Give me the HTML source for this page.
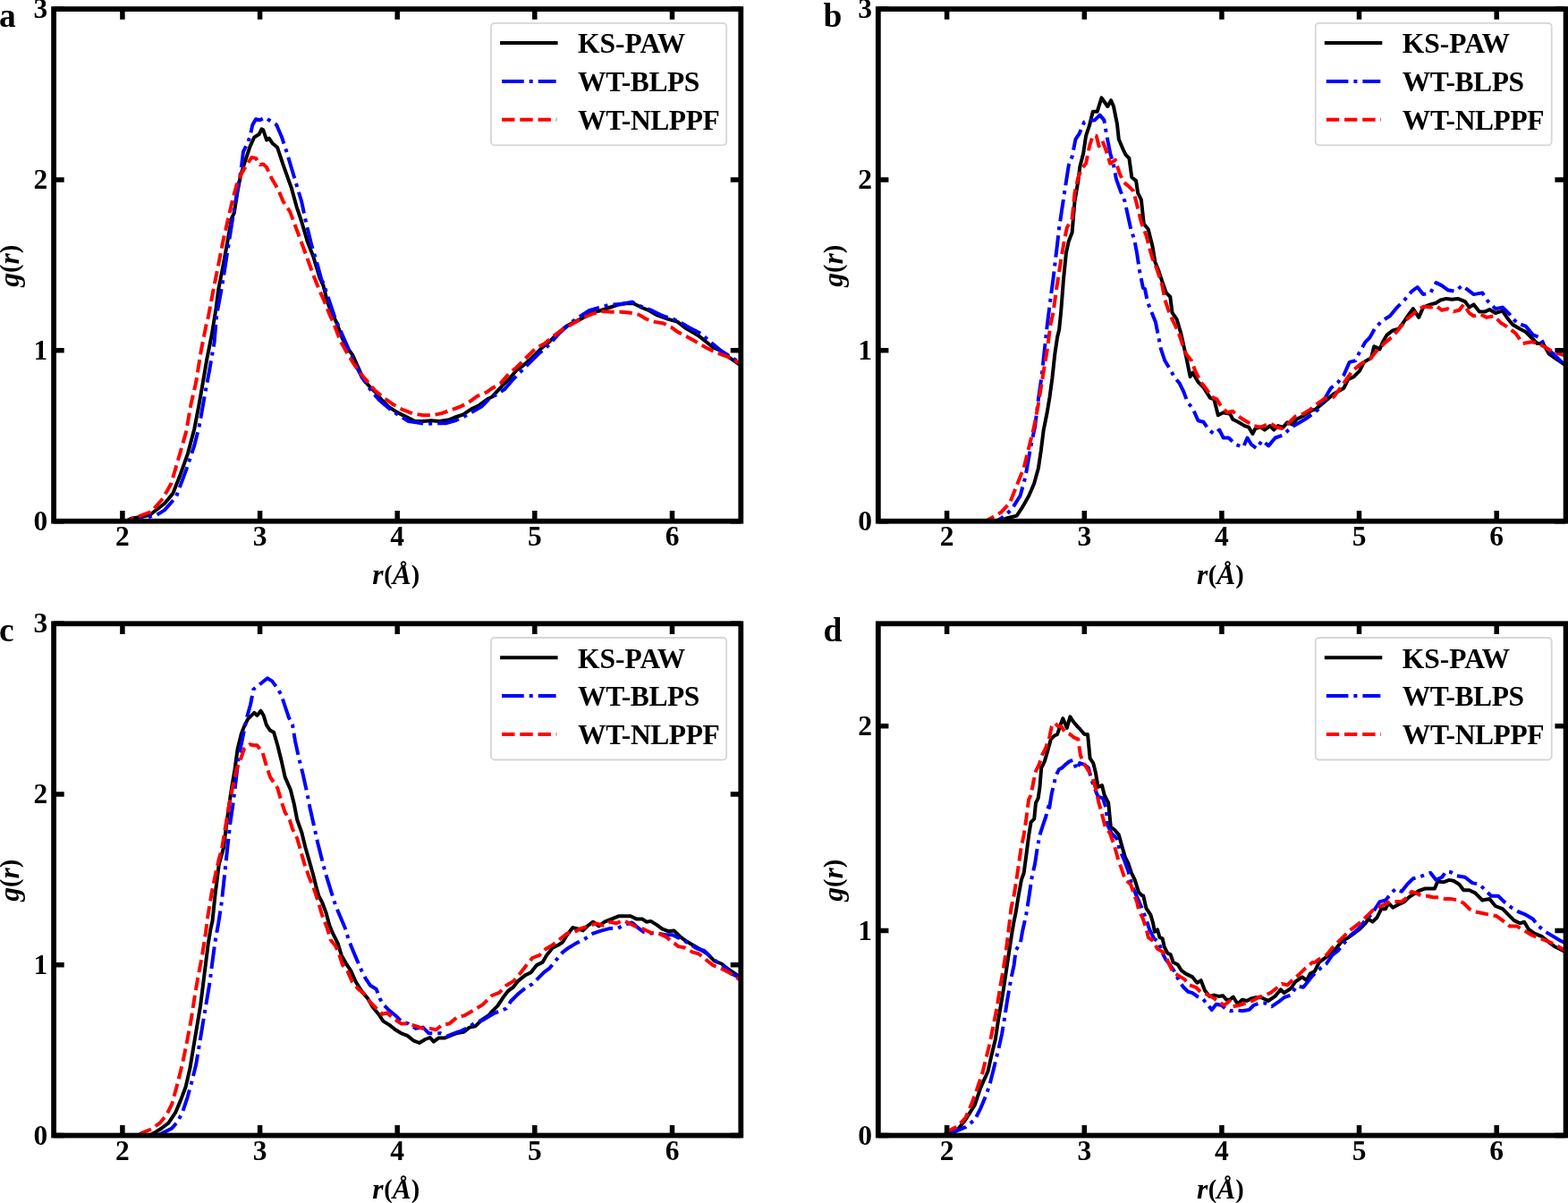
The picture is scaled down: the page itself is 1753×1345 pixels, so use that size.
<!DOCTYPE html>
<html><head><meta charset="utf-8"><title>g(r)</title>
<style>html,body{margin:0;padding:0;background:#fff;overflow:hidden}svg{display:block}text{font-family:"Liberation Serif","Times New Roman",serif;font-weight:bold}</style></head><body>
<svg width="1753" height="1345" viewBox="0 0 1753 1345">
<rect width="1753" height="1345" fill="#fff"/>
<g id="pa">
<clipPath id="clipa"><rect x="60.1" y="10.1" width="768.2" height="572.6"/></clipPath>
<path d="M55.1,582.7 L140.7,582.7 L146.7,579.7 L167.2,576.0 L183.9,563.0 L193.2,551.9 L200.6,533.3 L209.9,507.3 L217.3,479.4 L222.0,455.2 L226.6,429.2 L231.3,401.3 L236.9,373.5 L241.5,345.0 L244.2,323.7 L249.7,295.8 L254.4,269.8 L259.0,243.8 L261.8,238.2 L265.5,214.1 L269.2,195.5 L273.9,180.6 L279.5,163.9 L284.1,153.7 L289.7,150.0 L292.5,144.4 L294.3,145.3 L298.1,156.5 L300.8,154.6 L304.6,160.2 L310.1,164.8 L316.6,184.3 L325.9,210.4 L331.5,230.8 L337.1,247.5 L343.6,269.8 L350.1,286.5 L357.5,310.7 L361.5,319.3 L365.9,337.2 L370.4,349.1 L376.4,361.0 L382.3,377.3 L388.3,389.2 L394.2,396.7 L400.1,410.0 L406.1,423.4 L412.0,430.9 L419.5,438.3 L426.9,447.2 L434.3,454.6 L443.3,460.6 L452.2,465.1 L464.1,471.0 L473.0,471.0 L481.9,470.3 L490.9,471.0 L501.3,469.5 L508.7,466.5 L517.6,463.6 L526.5,457.6 L535.5,453.2 L545.9,445.7 L550.0,443.8 L559.6,433.4 L569.2,423.8 L577.2,414.2 L585.1,408.6 L594.7,399.9 L604.3,390.3 L613.9,382.3 L623.5,372.7 L633.1,364.7 L642.6,359.9 L652.2,355.1 L661.8,349.5 L671.4,347.2 L681.0,344.0 L690.6,340.8 L700.1,339.2 L708.1,339.2 L717.7,344.0 L725.7,347.2 L735.3,352.7 L746.5,356.7 L757.6,359.9 L765.6,366.3 L773.6,371.1 L781.6,375.9 L789.6,382.3 L797.6,388.7 L805.6,391.9 L813.5,398.3 L824.7,406.2 L830.0,409.5" fill="none" stroke="#000" stroke-width="4.0" stroke-linejoin="round" stroke-linecap="square" clip-path="url(#clipa)"/>
<path d="M55.1,582.7 L153.7,582.7 L159.7,579.7 L174.6,576.0 L183.9,570.4 L196.9,555.6 L208.0,525.8 L217.3,498.0 L222.9,475.7 L228.5,444.1 L234.1,414.3 L239.6,382.7 L242.3,351.6 L247.9,321.9 L253.5,286.5 L259.0,251.2 L264.6,217.8 L269.2,191.8 L272.0,169.5 L275.8,162.0 L279.5,152.7 L282.3,139.7 L286.0,133.2 L290.6,134.2 L296.2,131.4 L303.6,136.0 L309.2,139.7 L314.8,152.7 L320.4,169.5 L325.9,188.0 L331.5,206.6 L337.1,225.2 L342.7,251.2 L348.2,273.5 L353.8,292.1 L359.4,312.6 L361.5,316.4 L368.9,338.7 L374.9,356.5 L385.3,380.3 L395.7,404.1 L404.6,421.9 L415.0,436.8 L423.9,447.2 L434.3,456.1 L444.8,463.6 L456.7,471.0 L467.1,472.5 L476.0,474.0 L486.4,473.2 L498.3,473.2 L508.7,470.3 L517.6,466.5 L528.0,460.6 L538.4,454.6 L548.8,444.2 L554.8,441.4 L564.4,435.0 L574.0,423.8 L583.5,414.2 L591.5,406.2 L602.7,395.1 L613.9,385.5 L625.1,372.7 L639.4,359.9 L649.0,353.5 L658.6,347.2 L669.8,344.0 L681.0,340.8 L693.7,340.0 L706.5,337.6 L716.1,342.4 L728.9,347.2 L741.7,353.5 L752.8,356.7 L762.4,361.5 L773.6,367.9 L783.2,372.7 L796.0,383.9 L805.6,391.9 L818.3,399.9 L826.3,404.7 L830.0,407.0" fill="none" stroke="#0000ff" stroke-width="4.0" stroke-linejoin="round" stroke-linecap="butt" stroke-dasharray="24.6 6.0 4.0 6.0" clip-path="url(#clipa)"/>
<path d="M55.1,582.7 L142.6,582.7 L148.6,579.7 L169.0,572.3 L182.0,557.4 L191.3,540.7 L200.6,509.1 L208.0,483.1 L213.6,451.5 L219.2,427.3 L224.8,392.0 L230.4,364.2 L233.0,353.5 L238.6,323.7 L244.2,295.8 L249.7,268.0 L255.3,243.8 L260.0,223.4 L264.6,206.6 L270.2,193.6 L275.8,184.3 L281.3,176.0 L286.0,176.9 L290.6,184.3 L294.3,183.4 L298.1,187.1 L303.6,199.2 L311.1,212.2 L316.6,225.2 L324.1,236.4 L329.6,251.2 L335.2,266.1 L342.7,286.5 L350.1,307.0 L357.5,325.6 L361.5,334.2 L367.4,349.1 L373.4,362.5 L380.8,381.8 L388.3,395.2 L395.7,407.1 L403.1,417.5 L410.6,426.4 L419.5,436.8 L428.4,444.2 L438.8,451.7 L449.2,457.6 L461.1,462.1 L473.0,464.3 L483.4,464.3 L493.8,462.1 L504.2,458.4 L514.6,454.6 L523.6,450.2 L534.0,442.7 L544.4,438.3 L550.0,434.2 L559.6,428.6 L569.2,417.4 L577.2,411.0 L586.7,401.5 L597.9,390.3 L609.1,383.9 L618.7,375.9 L629.9,367.9 L641.0,361.5 L652.2,355.1 L661.8,351.1 L671.4,348.0 L682.6,348.7 L693.7,348.7 L703.3,349.5 L714.5,351.9 L722.5,356.7 L732.1,359.9 L741.7,361.5 L751.2,366.3 L757.6,371.1 L767.2,375.9 L778.4,382.3 L789.6,388.7 L799.2,393.5 L812.0,398.3 L824.7,404.7 L830.0,407.5" fill="none" stroke="#ff0000" stroke-width="4.0" stroke-linejoin="round" stroke-linecap="butt" stroke-dasharray="14.4 5.8" clip-path="url(#clipa)"/>
<path d="M136.9,582.7V571.1M136.9,10.1V21.7M290.6,582.7V571.1M290.6,10.1V21.7M444.2,582.7V571.1M444.2,10.1V21.7M597.8,582.7V571.1M597.8,10.1V21.7M751.5,582.7V571.1M751.5,10.1V21.7M60.1,582.7H71.7M828.3,582.7H816.7M60.1,391.8H71.7M828.3,391.8H816.7M60.1,201.0H71.7M828.3,201.0H816.7M60.1,10.1H71.7M828.3,10.1H816.7" stroke="#000" stroke-width="5.5" fill="none"/>
<rect x="60.1" y="10.1" width="768.2" height="572.6" fill="none" stroke="#000" stroke-width="5.8" stroke-linejoin="miter"/>
<text x="136.9" y="609.7" font-size="31.5" text-anchor="middle">2</text>
<text x="290.6" y="609.7" font-size="31.5" text-anchor="middle">3</text>
<text x="444.2" y="609.7" font-size="31.5" text-anchor="middle">4</text>
<text x="597.8" y="609.7" font-size="31.5" text-anchor="middle">5</text>
<text x="751.5" y="609.7" font-size="31.5" text-anchor="middle">6</text>
<text x="53.3" y="592.7" font-size="31.5" text-anchor="end">0</text>
<text x="53.3" y="401.8" font-size="31.5" text-anchor="end">1</text>
<text x="53.3" y="211.0" font-size="31.5" text-anchor="end">2</text>
<text x="53.3" y="20.1" font-size="31.5" text-anchor="end">3</text>
<text x="442.7" y="652.9" font-size="31.5" text-anchor="middle"><tspan font-style="italic">r</tspan><tspan font-size="28.4" dx="0.6" dy="-0.8">(</tspan><tspan font-style="italic" dy="0.8">Å</tspan><tspan font-size="28.4" dy="-0.8">)</tspan></text>
<text transform="translate(20.5,297.3) rotate(-90)" font-size="31.5" text-anchor="middle"><tspan font-style="italic">g</tspan><tspan font-size="28.4" dy="-0.8">(</tspan><tspan font-style="italic" dy="0.8">r</tspan><tspan font-size="28.4" dy="-0.8">)</tspan></text>
<text x="-0.9" y="29.7" font-size="37.5">a</text>
<rect x="549.0" y="25.8" width="263.2" height="136.5" rx="4" ry="4" fill="#fff" fill-opacity="0.8" stroke="#d6d6d6" stroke-width="1.8"/>
<path d="M561.1,48.1H621.6" stroke="#000" stroke-width="4.0" stroke-linecap="square" fill="none"/>
<text x="646.1" y="59.3" font-size="31.5">KS-PAW</text>
<path d="M561.1,90.9H621.6" stroke="#0000ff" stroke-width="4.0" stroke-linecap="butt" stroke-dasharray="24.6 6.0 4.0 6.0" fill="none"/>
<text x="646.1" y="102.1" font-size="31.5" letter-spacing="-0.45">WT-BLPS</text>
<path d="M561.1,133.7H622.3" stroke="#ff0000" stroke-width="4.0" stroke-linecap="butt" stroke-dasharray="14.4 5.8" fill="none"/>
<text x="646.1" y="144.9" font-size="31.5" letter-spacing="-0.42">WT-NLPPF</text>
</g>
<g id="pb">
<clipPath id="clipb"><rect x="981.8" y="10.1" width="768.2" height="572.6"/></clipPath>
<path d="M976.8,582.7 L1119.1,582.7 L1125.1,579.5 L1136.7,576.6 L1142.5,567.9 L1150.3,554.3 L1156.1,540.8 L1160.9,523.4 L1163.8,504.0 L1166.7,480.8 L1170.6,461.5 L1173.5,444.1 L1176.4,422.8 L1179.3,395.8 L1182.2,376.4 L1184.1,368.7 L1186.1,349.3 L1189.0,312.2 L1191.9,283.2 L1194.8,269.7 L1198.6,260.0 L1201.5,225.3 L1205.4,202.1 L1207.3,186.6 L1211.2,171.2 L1214.1,151.8 L1218.0,140.2 L1221.8,124.8 L1226.7,124.8 L1231.5,109.3 L1238.3,119.0 L1242.1,112.2 L1245.0,119.0 L1248.9,138.3 L1250.8,155.7 L1255.7,167.3 L1258.6,173.1 L1262.4,177.0 L1265.3,198.2 L1270.1,202.1 L1272.1,215.6 L1275.9,223.3 L1278.8,250.4 L1283.7,256.2 L1288.5,275.5 L1291.4,292.9 L1295.3,302.6 L1299.1,314.2 L1303.8,327.4 L1308.3,331.9 L1310.5,349.7 L1315.7,357.2 L1320.1,372.0 L1323.1,385.4 L1326.1,398.8 L1330.6,421.1 L1333.5,416.7 L1339.5,427.1 L1345.4,433.0 L1352.9,444.9 L1357.3,446.4 L1361.8,464.2 L1367.7,461.3 L1375.2,462.7 L1378.1,468.7 L1384.1,471.7 L1391.5,476.1 L1396.0,477.6 L1400.4,485.1 L1403.4,479.1 L1409.4,477.6 L1413.8,480.6 L1419.8,476.1 L1424.2,480.6 L1428.7,476.1 L1434.6,477.6 L1439.1,472.4 L1445.1,474.6 L1449.5,468.7 L1458.4,464.2 L1467.4,458.3 L1470.0,458.2 L1479.7,450.1 L1491.0,440.5 L1502.3,434.0 L1507.1,424.3 L1513.6,421.1 L1520.0,414.6 L1524.9,404.9 L1533.0,400.1 L1536.2,387.2 L1542.6,390.4 L1545.9,382.3 L1550.7,374.3 L1557.2,369.4 L1563.6,367.8 L1568.5,361.3 L1574.9,351.7 L1579.8,345.2 L1586.2,354.9 L1591.1,343.6 L1599.2,340.4 L1605.6,338.7 L1610.5,335.5 L1616.9,333.9 L1623.4,334.7 L1629.8,333.9 L1637.9,337.1 L1642.7,343.6 L1647.6,340.4 L1654.0,348.4 L1660.5,348.4 L1665.3,346.0 L1671.8,350.0 L1679.9,347.6 L1684.7,354.9 L1691.2,363.0 L1699.3,367.8 L1705.7,371.0 L1712.2,377.5 L1718.6,384.0 L1725.1,384.0 L1731.5,395.3 L1738.0,400.1 L1747.7,406.6 L1753.0,410.0" fill="none" stroke="#000" stroke-width="4.0" stroke-linejoin="round" stroke-linecap="square" clip-path="url(#clipb)"/>
<path d="M976.8,582.7 L1113.3,582.7 L1119.3,579.5 L1130.9,569.8 L1140.6,554.3 L1146.4,533.1 L1152.2,500.2 L1157.1,477.0 L1160.9,446.0 L1164.8,419.0 L1167.7,391.9 L1170.6,364.8 L1174.5,333.9 L1177.4,312.2 L1181.3,279.4 L1184.2,254.3 L1187.1,234.9 L1190.9,209.8 L1194.8,184.7 L1198.6,175.0 L1202.5,155.7 L1206.4,149.9 L1212.2,136.4 L1218.0,134.4 L1223.8,134.4 L1229.6,128.6 L1234.4,134.4 L1237.3,151.8 L1241.2,171.2 L1245.0,184.7 L1247.9,200.1 L1252.8,213.7 L1257.6,225.3 L1260.5,238.8 L1264.3,256.2 L1268.2,267.8 L1271.1,283.2 L1274.0,302.6 L1277.9,321.9 L1280.0,323.0 L1283.0,337.8 L1285.9,345.3 L1291.9,360.1 L1294.9,375.0 L1297.8,389.9 L1302.3,403.3 L1306.8,410.7 L1312.7,421.1 L1318.7,428.6 L1323.1,437.5 L1327.6,449.4 L1333.5,456.8 L1339.5,470.2 L1345.4,471.7 L1351.4,480.6 L1357.3,485.1 L1363.3,480.6 L1367.7,489.5 L1373.7,489.5 L1381.1,497.0 L1390.0,499.9 L1394.5,489.5 L1399.0,497.0 L1404.9,501.4 L1410.9,492.5 L1418.3,498.4 L1425.7,489.5 L1434.6,486.5 L1440.6,480.6 L1446.5,476.1 L1454.0,471.7 L1461.4,467.2 L1473.2,458.2 L1481.3,445.3 L1487.8,434.0 L1495.8,427.5 L1502.3,419.5 L1508.7,404.9 L1515.2,403.3 L1520.0,393.6 L1526.5,382.3 L1531.3,377.5 L1537.8,366.2 L1545.9,358.1 L1554.0,353.3 L1562.0,343.6 L1570.1,335.5 L1578.2,325.8 L1584.6,321.0 L1591.1,329.1 L1599.2,327.4 L1605.6,316.1 L1612.1,319.4 L1618.5,324.2 L1626.6,325.8 L1634.7,319.4 L1641.1,324.2 L1647.6,329.1 L1657.3,327.4 L1663.7,337.1 L1671.8,345.2 L1679.9,343.6 L1688.0,351.7 L1696.0,361.3 L1705.7,364.6 L1713.8,374.3 L1721.9,377.5 L1728.3,388.8 L1738.0,396.9 L1747.7,406.6 L1753.0,410.0" fill="none" stroke="#0000ff" stroke-width="4.0" stroke-linejoin="round" stroke-linecap="butt" stroke-dasharray="24.6 6.0 4.0 6.0" clip-path="url(#clipb)"/>
<path d="M976.8,582.7 L1101.7,582.7 L1107.7,579.5 L1119.3,572.7 L1129.0,562.1 L1136.7,542.7 L1144.5,523.4 L1150.3,500.2 L1156.1,477.0 L1160.9,451.8 L1165.8,420.9 L1170.6,391.9 L1174.5,362.9 L1177.4,349.9 L1181.3,321.9 L1186.1,291.0 L1190.0,267.8 L1192.9,254.3 L1198.6,244.6 L1201.5,215.6 L1205.4,198.2 L1209.3,188.6 L1214.1,182.8 L1218.0,163.4 L1221.8,151.8 L1225.7,151.8 L1228.6,163.4 L1232.5,157.6 L1236.3,167.3 L1241.2,182.8 L1247.0,178.9 L1251.8,194.3 L1256.6,204.0 L1261.4,207.9 L1267.2,213.7 L1271.1,229.1 L1275.9,248.5 L1281.7,263.9 L1285.6,279.4 L1288.5,289.0 L1293.3,300.6 L1299.1,318.0 L1302.3,334.9 L1306.8,348.3 L1311.2,358.7 L1317.2,370.6 L1321.6,383.9 L1326.1,395.8 L1332.0,403.3 L1336.5,415.2 L1342.5,427.1 L1348.4,434.5 L1354.3,443.4 L1360.3,446.4 L1364.8,453.8 L1372.2,461.3 L1378.1,459.8 L1387.1,467.2 L1394.5,471.7 L1401.9,476.1 L1409.4,477.6 L1419.8,473.2 L1427.2,477.6 L1433.2,479.1 L1440.6,473.2 L1448.0,465.7 L1456.9,462.7 L1464.4,458.3 L1470.0,453.4 L1481.3,445.3 L1491.0,443.7 L1500.7,430.8 L1512.0,414.6 L1521.7,406.6 L1531.3,401.7 L1539.4,392.0 L1547.5,384.0 L1557.2,375.9 L1565.3,366.2 L1573.3,356.5 L1583.0,348.4 L1591.1,342.8 L1599.2,343.6 L1605.6,342.0 L1612.1,346.8 L1618.5,345.2 L1625.0,348.4 L1631.4,346.8 L1636.3,340.4 L1642.7,350.0 L1647.6,353.3 L1655.7,351.7 L1662.1,354.9 L1670.2,353.3 L1678.3,361.3 L1686.3,366.2 L1694.4,372.7 L1702.5,384.0 L1712.2,382.3 L1720.2,384.0 L1728.3,388.8 L1736.4,393.6 L1747.7,396.9 L1753.0,398.0" fill="none" stroke="#ff0000" stroke-width="4.0" stroke-linejoin="round" stroke-linecap="butt" stroke-dasharray="14.4 5.8" clip-path="url(#clipb)"/>
<path d="M1058.6,582.7V571.1M1058.6,10.1V21.7M1212.3,582.7V571.1M1212.3,10.1V21.7M1365.9,582.7V571.1M1365.9,10.1V21.7M1519.5,582.7V571.1M1519.5,10.1V21.7M1673.2,582.7V571.1M1673.2,10.1V21.7M981.8,582.7H993.4M1750.0,582.7H1738.4M981.8,391.8H993.4M1750.0,391.8H1738.4M981.8,201.0H993.4M1750.0,201.0H1738.4M981.8,10.1H993.4M1750.0,10.1H1738.4" stroke="#000" stroke-width="5.5" fill="none"/>
<rect x="981.8" y="10.1" width="768.8" height="572.6" fill="none" stroke="#000" stroke-width="5.8" stroke-linejoin="miter"/>
<text x="1058.6" y="609.7" font-size="31.5" text-anchor="middle">2</text>
<text x="1212.3" y="609.7" font-size="31.5" text-anchor="middle">3</text>
<text x="1365.9" y="609.7" font-size="31.5" text-anchor="middle">4</text>
<text x="1519.5" y="609.7" font-size="31.5" text-anchor="middle">5</text>
<text x="1673.2" y="609.7" font-size="31.5" text-anchor="middle">6</text>
<text x="975.0" y="592.7" font-size="31.5" text-anchor="end">0</text>
<text x="975.0" y="401.8" font-size="31.5" text-anchor="end">1</text>
<text x="975.0" y="211.0" font-size="31.5" text-anchor="end">2</text>
<text x="975.0" y="20.1" font-size="31.5" text-anchor="end">3</text>
<text x="1364.4" y="652.9" font-size="31.5" text-anchor="middle"><tspan font-style="italic">r</tspan><tspan font-size="28.4" dx="0.6" dy="-0.8">(</tspan><tspan font-style="italic" dy="0.8">Å</tspan><tspan font-size="28.4" dy="-0.8">)</tspan></text>
<text transform="translate(942.2,297.3) rotate(-90)" font-size="31.5" text-anchor="middle"><tspan font-style="italic">g</tspan><tspan font-size="28.4" dy="-0.8">(</tspan><tspan font-style="italic" dy="0.8">r</tspan><tspan font-size="28.4" dy="-0.8">)</tspan></text>
<text x="920.6" y="29.7" font-size="37.5">b</text>
<rect x="1470.7" y="25.8" width="264.0" height="136.5" rx="4" ry="4" fill="#fff" fill-opacity="0.8" stroke="#d6d6d6" stroke-width="1.8"/>
<path d="M1482.8,48.1H1543.3" stroke="#000" stroke-width="4.0" stroke-linecap="square" fill="none"/>
<text x="1567.8" y="59.3" font-size="31.5">KS-PAW</text>
<path d="M1482.8,90.9H1543.3" stroke="#0000ff" stroke-width="4.0" stroke-linecap="butt" stroke-dasharray="24.6 6.0 4.0 6.0" fill="none"/>
<text x="1567.8" y="102.1" font-size="31.5" letter-spacing="-0.45">WT-BLPS</text>
<path d="M1482.8,133.7H1544.0" stroke="#ff0000" stroke-width="4.0" stroke-linecap="butt" stroke-dasharray="14.4 5.8" fill="none"/>
<text x="1567.8" y="144.9" font-size="31.5" letter-spacing="-0.42">WT-NLPPF</text>
</g>
<g id="pc">
<clipPath id="clipc"><rect x="60.1" y="697.3" width="768.2" height="572.2"/></clipPath>
<path d="M55.1,1269.5 L166.9,1269.5 L172.9,1266.4 L180.6,1261.5 L188.3,1255.7 L196.0,1244.2 L201.8,1230.6 L207.6,1215.2 L212.5,1193.9 L216.3,1170.7 L220.2,1147.5 L224.1,1124.3 L227.0,1101.2 L229.9,1078.0 L232.8,1054.8 L235.6,1038.0 L237.5,1029.9 L240.6,999.7 L244.8,966.4 L250.0,947.7 L253.1,922.7 L256.2,899.8 L259.3,879.0 L262.5,860.3 L265.6,837.4 L269.7,820.7 L272.9,812.4 L277.0,804.1 L281.2,799.9 L284.3,796.8 L287.4,799.9 L291.6,794.7 L294.7,799.9 L297.8,810.3 L302.0,816.6 L306.1,818.7 L310.3,833.2 L314.5,849.9 L318.6,868.6 L324.9,883.2 L329.0,899.8 L332.2,916.5 L337.4,931.0 L341.5,947.7 L345.7,962.2 L349.8,976.8 L354.0,993.4 L356.3,1001.3 L360.4,1009.4 L364.4,1020.1 L368.4,1034.8 L372.4,1044.2 L377.8,1054.9 L381.8,1068.3 L387.1,1077.6 L392.5,1085.7 L397.8,1097.7 L404.5,1108.4 L411.2,1116.4 L416.6,1125.8 L423.3,1133.9 L428.6,1141.9 L435.3,1145.9 L442.0,1151.3 L448.7,1155.3 L455.4,1157.9 L462.1,1163.3 L468.8,1166.0 L475.5,1162.0 L480.8,1160.0 L484.8,1164.6 L490.2,1160.6 L496.9,1160.6 L503.6,1157.9 L510.3,1155.3 L518.3,1153.9 L525.0,1148.6 L531.7,1147.2 L538.4,1140.5 L546.4,1135.2 L550.0,1130.8 L556.5,1124.3 L562.9,1114.6 L567.8,1108.2 L574.2,1103.3 L579.1,1096.9 L587.1,1090.4 L593.6,1087.2 L600.0,1079.1 L606.5,1075.9 L611.3,1067.8 L617.8,1059.7 L624.3,1056.5 L629.1,1053.3 L634.0,1045.2 L640.4,1037.1 L646.9,1038.7 L651.7,1040.4 L656.6,1035.5 L663.0,1030.7 L669.5,1035.5 L675.9,1030.7 L684.0,1027.4 L692.1,1024.2 L698.5,1024.2 L705.0,1024.2 L711.4,1027.4 L717.9,1027.4 L722.7,1030.7 L727.6,1029.9 L734.0,1033.9 L740.5,1038.7 L747.0,1041.2 L753.4,1040.4 L759.9,1046.8 L766.3,1051.7 L774.4,1056.5 L782.5,1061.3 L790.6,1066.2 L798.6,1074.3 L806.7,1077.5 L814.8,1084.0 L824.5,1090.4 L830.0,1094.0" fill="none" stroke="#000" stroke-width="4.0" stroke-linejoin="round" stroke-linecap="square" clip-path="url(#clipc)"/>
<path d="M55.1,1269.5 L176.5,1269.5 L182.5,1266.4 L192.2,1261.5 L198.0,1254.8 L203.8,1244.2 L209.6,1226.8 L214.4,1209.4 L219.2,1190.0 L223.1,1166.9 L226.9,1143.7 L230.8,1120.5 L234.7,1097.3 L237.6,1074.1 L240.5,1052.9 L244.3,1031.6 L247.9,1008.0 L251.0,978.9 L254.1,949.8 L257.3,920.6 L260.4,899.8 L263.5,874.8 L266.6,847.8 L270.8,827.0 L276.0,802.0 L280.1,787.5 L283.3,770.8 L288.5,766.6 L293.7,762.5 L298.9,758.3 L304.1,761.4 L310.3,769.8 L314.5,777.0 L318.6,789.5 L322.8,802.0 L327.0,810.3 L330.1,829.1 L334.2,847.8 L338.4,864.4 L342.6,883.2 L346.7,904.0 L350.9,922.7 L355.0,941.4 L359.2,958.1 L363.4,974.7 L368.6,991.4 L373.7,1008.0 L377.8,1018.7 L381.8,1028.1 L385.8,1037.5 L389.8,1050.9 L395.2,1064.2 L399.2,1073.6 L404.5,1085.7 L408.5,1093.7 L413.9,1101.7 L420.6,1105.7 L424.6,1116.4 L428.6,1123.1 L435.3,1129.8 L442.0,1135.2 L448.7,1141.9 L456.7,1144.6 L464.8,1149.9 L472.8,1148.6 L479.5,1155.3 L486.2,1155.3 L492.9,1155.3 L499.6,1158.6 L507.6,1155.3 L515.6,1152.6 L523.7,1148.6 L531.7,1143.2 L539.7,1140.5 L546.4,1136.5 L553.1,1132.5 L558.1,1130.8 L566.1,1127.5 L571.0,1119.5 L579.1,1111.4 L587.1,1104.9 L595.2,1100.1 L601.7,1093.6 L608.1,1087.2 L614.6,1082.3 L621.0,1074.3 L629.1,1064.6 L635.6,1059.7 L643.6,1054.9 L653.3,1050.0 L663.0,1043.6 L672.7,1040.4 L682.4,1037.9 L690.5,1037.9 L698.5,1033.9 L706.6,1031.5 L713.1,1037.1 L719.5,1042.0 L727.6,1043.6 L735.7,1043.6 L743.7,1045.2 L751.8,1045.2 L758.3,1048.4 L764.7,1051.7 L772.8,1056.5 L779.3,1060.5 L787.3,1063.0 L793.8,1069.4 L801.9,1075.9 L809.9,1080.7 L818.0,1088.8 L824.5,1092.0 L830.0,1095.0" fill="none" stroke="#0000ff" stroke-width="4.0" stroke-linejoin="round" stroke-linecap="butt" stroke-dasharray="24.6 6.0 4.0 6.0" clip-path="url(#clipc)"/>
<path d="M55.1,1269.5 L153.3,1269.5 L159.3,1266.4 L169.0,1262.5 L178.6,1255.7 L186.4,1246.1 L192.2,1234.5 L198.0,1213.2 L203.8,1190.0 L208.6,1166.9 L213.4,1141.7 L217.3,1116.6 L221.2,1093.4 L226.0,1068.3 L229.9,1043.2 L232.3,1024.7 L236.4,999.7 L240.6,978.9 L244.8,960.2 L247.9,949.8 L252.0,924.8 L256.2,899.8 L260.4,879.0 L264.5,860.3 L268.7,849.9 L272.9,837.4 L279.1,832.2 L283.3,833.2 L287.4,833.2 L293.7,841.6 L297.8,856.1 L302.0,868.6 L306.1,874.8 L310.3,881.1 L314.5,895.7 L318.6,908.1 L323.8,916.5 L327.0,926.9 L332.2,937.3 L336.3,951.8 L340.5,966.4 L345.7,981.0 L350.9,993.4 L355.0,1005.9 L360.4,1024.1 L365.7,1037.5 L369.7,1050.9 L375.1,1057.6 L379.1,1066.9 L383.1,1079.0 L388.5,1085.7 L393.8,1097.7 L400.5,1105.7 L407.2,1111.1 L413.9,1120.5 L420.6,1127.2 L427.3,1133.9 L432.6,1132.5 L440.7,1139.2 L448.7,1144.6 L456.7,1144.6 L464.8,1147.2 L472.8,1149.9 L480.8,1149.9 L487.5,1151.3 L494.2,1145.9 L502.2,1144.6 L510.3,1137.9 L519.6,1135.2 L529.0,1129.8 L539.7,1123.1 L550.0,1113.0 L558.1,1109.8 L566.1,1101.7 L574.2,1096.9 L582.3,1087.2 L588.7,1079.1 L595.2,1071.0 L603.3,1067.8 L609.7,1061.3 L617.8,1056.5 L625.9,1050.0 L634.0,1043.6 L642.0,1042.0 L650.1,1037.9 L658.2,1035.5 L666.2,1032.3 L674.3,1034.7 L682.4,1030.7 L688.8,1032.3 L696.9,1029.1 L703.4,1032.3 L711.4,1036.3 L719.5,1038.7 L727.6,1042.8 L735.7,1043.6 L743.7,1046.8 L750.2,1051.7 L758.3,1058.1 L766.3,1059.7 L774.4,1064.6 L780.9,1066.2 L789.0,1072.7 L797.0,1079.1 L805.1,1082.3 L814.8,1087.2 L824.5,1093.6 L830.0,1097.0" fill="none" stroke="#ff0000" stroke-width="4.0" stroke-linejoin="round" stroke-linecap="butt" stroke-dasharray="14.4 5.8" clip-path="url(#clipc)"/>
<path d="M136.9,1269.5V1257.9M136.9,697.3V708.9M290.6,1269.5V1257.9M290.6,697.3V708.9M444.2,1269.5V1257.9M444.2,697.3V708.9M597.8,1269.5V1257.9M597.8,697.3V708.9M751.5,1269.5V1257.9M751.5,697.3V708.9M60.1,1269.5H71.7M828.3,1269.5H816.7M60.1,1078.8H71.7M828.3,1078.8H816.7M60.1,888.0H71.7M828.3,888.0H816.7M60.1,697.3H71.7M828.3,697.3H816.7" stroke="#000" stroke-width="5.5" fill="none"/>
<rect x="60.1" y="697.3" width="768.2" height="572.2" fill="none" stroke="#000" stroke-width="5.8" stroke-linejoin="miter"/>
<text x="136.9" y="1296.5" font-size="31.5" text-anchor="middle">2</text>
<text x="290.6" y="1296.5" font-size="31.5" text-anchor="middle">3</text>
<text x="444.2" y="1296.5" font-size="31.5" text-anchor="middle">4</text>
<text x="597.8" y="1296.5" font-size="31.5" text-anchor="middle">5</text>
<text x="751.5" y="1296.5" font-size="31.5" text-anchor="middle">6</text>
<text x="53.3" y="1279.5" font-size="31.5" text-anchor="end">0</text>
<text x="53.3" y="1088.8" font-size="31.5" text-anchor="end">1</text>
<text x="53.3" y="898.0" font-size="31.5" text-anchor="end">2</text>
<text x="53.3" y="707.3" font-size="31.5" text-anchor="end">3</text>
<text x="442.7" y="1339.7" font-size="31.5" text-anchor="middle"><tspan font-style="italic">r</tspan><tspan font-size="28.4" dx="0.6" dy="-0.8">(</tspan><tspan font-style="italic" dy="0.8">Å</tspan><tspan font-size="28.4" dy="-0.8">)</tspan></text>
<text transform="translate(20.5,984.3) rotate(-90)" font-size="31.5" text-anchor="middle"><tspan font-style="italic">g</tspan><tspan font-size="28.4" dy="-0.8">(</tspan><tspan font-style="italic" dy="0.8">r</tspan><tspan font-size="28.4" dy="-0.8">)</tspan></text>
<text x="-0.9" y="716.9" font-size="37.5">c</text>
<rect x="549.0" y="713.0" width="263.2" height="136.5" rx="4" ry="4" fill="#fff" fill-opacity="0.8" stroke="#d6d6d6" stroke-width="1.8"/>
<path d="M561.1,735.3H621.6" stroke="#000" stroke-width="4.0" stroke-linecap="square" fill="none"/>
<text x="646.1" y="746.5" font-size="31.5">KS-PAW</text>
<path d="M561.1,778.1H621.6" stroke="#0000ff" stroke-width="4.0" stroke-linecap="butt" stroke-dasharray="24.6 6.0 4.0 6.0" fill="none"/>
<text x="646.1" y="789.3" font-size="31.5" letter-spacing="-0.45">WT-BLPS</text>
<path d="M561.1,820.9H622.3" stroke="#ff0000" stroke-width="4.0" stroke-linecap="butt" stroke-dasharray="14.4 5.8" fill="none"/>
<text x="646.1" y="832.1" font-size="31.5" letter-spacing="-0.42">WT-NLPPF</text>
</g>
<g id="pd">
<clipPath id="clipd"><rect x="981.8" y="697.3" width="768.2" height="572.2"/></clipPath>
<path d="M976.8,1269.5 L1054.8,1269.5 L1060.8,1265.3 L1071.2,1262.2 L1079.5,1251.8 L1089.9,1235.1 L1096.2,1216.4 L1104.5,1197.7 L1108.7,1178.9 L1112.8,1162.3 L1115.9,1141.5 L1119.1,1122.8 L1122.2,1104.0 L1125.3,1083.2 L1128.4,1062.4 L1131.6,1041.6 L1133.6,1030.0 L1135.7,1019.9 L1138.4,1003.0 L1142.0,983.4 L1144.6,976.2 L1147.3,956.6 L1150.0,935.2 L1152.6,919.1 L1156.2,915.6 L1158.0,897.7 L1160.7,892.4 L1162.5,879.9 L1164.2,858.5 L1167.8,851.4 L1171.4,838.9 L1174.9,826.4 L1178.5,822.8 L1182.1,821.0 L1185.6,810.3 L1188.3,803.2 L1192.8,813.9 L1196.4,801.4 L1199.9,806.8 L1204.4,812.1 L1207.9,815.7 L1212.4,821.0 L1216.0,821.0 L1218.6,847.8 L1222.2,853.1 L1224.9,863.8 L1227.6,879.9 L1232.0,878.1 L1234.7,888.8 L1239.2,897.7 L1241.8,924.5 L1246.3,928.0 L1250.8,933.4 L1254.3,945.9 L1257.9,958.4 L1261.5,965.5 L1265.0,976.2 L1268.6,983.4 L1273.1,997.6 L1276.6,1001.2 L1278.2,1001.4 L1281.4,1015.3 L1286.4,1022.9 L1289.0,1031.7 L1290.9,1041.8 L1294.0,1039.3 L1296.5,1048.2 L1299.7,1049.4 L1301.6,1058.3 L1305.4,1065.9 L1308.6,1067.1 L1311.7,1076.0 L1316.8,1078.5 L1320.6,1084.8 L1325.6,1088.6 L1333.2,1092.4 L1338.3,1098.7 L1342.7,1096.2 L1347.1,1107.6 L1352.2,1113.9 L1357.2,1112.6 L1362.3,1113.9 L1367.3,1113.3 L1371.1,1117.7 L1374.9,1117.7 L1378.7,1114.5 L1383.8,1122.7 L1388.8,1117.7 L1393.9,1119.0 L1399.0,1116.4 L1404.0,1115.2 L1410.3,1115.2 L1417.9,1119.0 L1425.5,1113.9 L1431.8,1106.3 L1435.6,1110.1 L1443.2,1105.0 L1448.3,1097.5 L1455.8,1092.4 L1460.9,1096.2 L1464.7,1088.6 L1469.7,1086.1 L1474.8,1075.9 L1481.3,1071.1 L1487.8,1066.2 L1494.2,1059.8 L1500.7,1051.7 L1507.1,1048.5 L1513.6,1043.6 L1520.0,1038.8 L1526.5,1032.3 L1529.7,1027.5 L1534.6,1030.7 L1539.4,1025.9 L1544.3,1016.2 L1549.1,1016.2 L1552.3,1009.7 L1557.2,1014.6 L1563.6,1011.3 L1570.1,1008.1 L1574.9,1003.3 L1579.8,1000.0 L1586.2,996.0 L1592.7,993.6 L1599.2,993.6 L1604.0,993.6 L1607.2,985.5 L1613.7,986.3 L1620.1,983.9 L1625.0,984.7 L1631.4,988.7 L1636.3,995.2 L1642.7,995.2 L1649.2,998.4 L1657.3,1006.5 L1665.3,1004.9 L1671.8,1013.0 L1679.9,1016.2 L1686.3,1022.7 L1692.8,1029.1 L1699.3,1032.3 L1704.1,1030.7 L1708.9,1038.8 L1715.4,1043.6 L1723.5,1046.9 L1731.5,1053.3 L1738.0,1058.2 L1747.7,1063.0 L1753.0,1066.0" fill="none" stroke="#000" stroke-width="4.0" stroke-linejoin="round" stroke-linecap="square" clip-path="url(#clipd)"/>
<path d="M976.8,1269.5 L1061.0,1269.5 L1067.0,1265.3 L1079.5,1260.1 L1089.9,1251.8 L1096.2,1239.3 L1102.4,1224.7 L1106.6,1212.2 L1111.8,1191.4 L1115.9,1174.8 L1120.1,1156.1 L1123.2,1137.3 L1126.4,1116.5 L1130.5,1093.6 L1133.6,1079.1 L1135.7,1062.4 L1140.9,1054.1 L1143.0,1041.6 L1147.2,1022.9 L1150.9,999.4 L1153.5,981.6 L1157.1,965.5 L1159.8,947.7 L1162.5,933.4 L1166.0,922.7 L1169.6,912.0 L1173.2,897.7 L1173.2,903.1 L1175.8,887.0 L1178.5,876.3 L1180.3,867.4 L1183.9,860.3 L1187.4,858.5 L1191.0,854.9 L1195.5,851.4 L1199.9,849.6 L1203.5,860.3 L1207.1,853.1 L1212.4,854.9 L1216.9,858.5 L1219.5,869.2 L1223.1,879.9 L1227.6,890.6 L1232.9,892.4 L1236.5,903.1 L1238.3,922.7 L1242.7,931.6 L1248.1,937.0 L1251.6,949.5 L1257.0,962.0 L1261.5,974.4 L1265.9,990.5 L1270.0,1000.1 L1273.8,1009.0 L1277.6,1017.8 L1281.4,1027.9 L1285.2,1039.3 L1290.2,1049.4 L1295.3,1053.2 L1299.1,1064.6 L1302.9,1072.2 L1307.9,1078.5 L1313.0,1086.1 L1318.0,1096.2 L1323.1,1103.8 L1328.2,1108.8 L1333.2,1110.1 L1338.3,1113.9 L1344.6,1116.4 L1349.6,1122.7 L1354.7,1129.1 L1359.8,1122.7 L1366.1,1124.0 L1371.1,1129.1 L1376.2,1130.3 L1381.3,1129.1 L1388.8,1130.3 L1396.4,1129.1 L1401.5,1124.0 L1407.8,1121.5 L1414.1,1121.5 L1421.7,1125.3 L1429.3,1120.2 L1435.6,1115.2 L1443.2,1112.6 L1449.5,1102.5 L1457.1,1103.8 L1462.2,1097.5 L1467.2,1091.1 L1472.3,1086.1 L1476.5,1082.4 L1482.9,1077.5 L1489.4,1067.9 L1495.8,1063.0 L1502.3,1054.9 L1510.4,1045.3 L1518.4,1038.8 L1524.9,1030.7 L1531.3,1024.3 L1536.2,1017.8 L1542.6,1008.1 L1549.1,1006.5 L1555.6,998.4 L1560.4,993.6 L1566.9,996.8 L1573.3,988.7 L1579.8,982.3 L1586.2,980.7 L1592.7,978.3 L1599.2,975.8 L1605.6,983.9 L1612.1,980.7 L1616.9,974.2 L1621.8,975.0 L1628.2,979.1 L1637.9,980.7 L1646.0,987.1 L1654.0,988.7 L1660.5,995.2 L1667.0,1001.7 L1675.0,1001.7 L1681.5,1008.1 L1689.6,1014.6 L1697.6,1019.4 L1705.7,1022.7 L1713.8,1027.5 L1720.2,1035.6 L1728.3,1042.0 L1736.4,1046.9 L1744.5,1051.7 L1747.7,1053.3 L1753.0,1056.0" fill="none" stroke="#0000ff" stroke-width="4.0" stroke-linejoin="round" stroke-linecap="butt" stroke-dasharray="24.6 6.0 4.0 6.0" clip-path="url(#clipd)"/>
<path d="M976.8,1269.5 L1052.7,1269.5 L1058.7,1265.3 L1071.2,1259.0 L1079.5,1249.7 L1085.8,1235.1 L1092.0,1218.5 L1098.3,1199.7 L1102.4,1183.1 L1106.6,1166.5 L1110.7,1145.7 L1114.9,1124.8 L1118.0,1104.0 L1121.1,1087.4 L1124.3,1066.6 L1127.4,1041.6 L1129.0,1028.0 L1130.4,1015.5 L1133.9,999.4 L1137.5,976.2 L1141.1,951.2 L1144.6,933.4 L1147.3,915.6 L1150.0,894.2 L1152.6,888.8 L1155.3,874.5 L1158.0,862.1 L1161.6,854.9 L1165.1,844.2 L1168.7,837.1 L1173.2,824.6 L1175.8,812.1 L1179.4,808.5 L1183.0,812.1 L1186.5,812.1 L1191.0,819.2 L1196.4,821.0 L1200.8,824.6 L1205.3,826.4 L1207.9,844.2 L1210.6,851.4 L1216.0,860.3 L1221.3,869.0 L1224.9,881.7 L1228.5,897.7 L1232.0,910.2 L1235.6,924.5 L1240.9,931.6 L1245.4,944.1 L1249.9,960.2 L1254.3,972.7 L1257.9,983.4 L1264.1,988.7 L1267.7,999.4 L1271.3,1009.0 L1273.2,1017.8 L1277.6,1026.7 L1281.4,1038.0 L1283.9,1048.2 L1289.0,1051.9 L1294.0,1060.8 L1300.3,1064.6 L1304.1,1070.9 L1307.9,1079.8 L1311.7,1087.3 L1318.0,1091.1 L1324.4,1094.9 L1329.4,1101.2 L1337.0,1103.8 L1342.1,1108.8 L1348.4,1111.4 L1356.0,1115.2 L1362.3,1120.2 L1368.6,1124.0 L1374.9,1119.0 L1378.7,1125.3 L1385.0,1124.0 L1392.6,1121.5 L1400.2,1119.0 L1406.5,1115.2 L1414.1,1112.6 L1420.4,1110.1 L1426.8,1105.0 L1433.1,1100.0 L1439.4,1101.2 L1444.5,1096.2 L1452.0,1089.9 L1459.6,1082.3 L1467.2,1076.0 L1470.0,1075.9 L1476.5,1071.1 L1482.9,1067.9 L1489.4,1059.8 L1495.8,1053.3 L1502.3,1046.9 L1508.7,1040.4 L1515.2,1035.6 L1521.7,1030.7 L1528.1,1024.3 L1534.6,1017.8 L1541.0,1014.6 L1547.5,1011.3 L1554.0,1008.1 L1560.4,1008.1 L1566.9,1008.1 L1573.3,1003.3 L1578.2,996.8 L1583.0,998.4 L1589.5,1001.7 L1595.9,1001.7 L1602.4,1003.3 L1608.8,1003.3 L1615.3,1004.9 L1621.8,1004.9 L1629.8,1006.5 L1636.3,1009.7 L1642.7,1016.2 L1649.2,1019.4 L1657.3,1021.0 L1665.3,1022.7 L1673.4,1024.3 L1679.9,1029.1 L1688.0,1035.6 L1696.0,1035.6 L1704.1,1040.4 L1712.2,1045.3 L1720.2,1048.5 L1728.3,1051.7 L1736.4,1054.9 L1747.7,1061.4 L1753.0,1064.0" fill="none" stroke="#ff0000" stroke-width="4.0" stroke-linejoin="round" stroke-linecap="butt" stroke-dasharray="14.4 5.8" clip-path="url(#clipd)"/>
<path d="M1058.6,1269.5V1257.9M1058.6,697.3V708.9M1212.3,1269.5V1257.9M1212.3,697.3V708.9M1365.9,1269.5V1257.9M1365.9,697.3V708.9M1519.5,1269.5V1257.9M1519.5,697.3V708.9M1673.2,1269.5V1257.9M1673.2,697.3V708.9M981.8,1269.5H993.4M1750.0,1269.5H1738.4M981.8,1040.6H993.4M1750.0,1040.6H1738.4M981.8,811.7H993.4M1750.0,811.7H1738.4" stroke="#000" stroke-width="5.5" fill="none"/>
<rect x="981.8" y="697.3" width="768.8" height="572.2" fill="none" stroke="#000" stroke-width="5.8" stroke-linejoin="miter"/>
<text x="1058.6" y="1296.5" font-size="31.5" text-anchor="middle">2</text>
<text x="1212.3" y="1296.5" font-size="31.5" text-anchor="middle">3</text>
<text x="1365.9" y="1296.5" font-size="31.5" text-anchor="middle">4</text>
<text x="1519.5" y="1296.5" font-size="31.5" text-anchor="middle">5</text>
<text x="1673.2" y="1296.5" font-size="31.5" text-anchor="middle">6</text>
<text x="975.0" y="1279.5" font-size="31.5" text-anchor="end">0</text>
<text x="975.0" y="1050.6" font-size="31.5" text-anchor="end">1</text>
<text x="975.0" y="821.7" font-size="31.5" text-anchor="end">2</text>
<text x="1364.4" y="1339.7" font-size="31.5" text-anchor="middle"><tspan font-style="italic">r</tspan><tspan font-size="28.4" dx="0.6" dy="-0.8">(</tspan><tspan font-style="italic" dy="0.8">Å</tspan><tspan font-size="28.4" dy="-0.8">)</tspan></text>
<text transform="translate(942.2,984.3) rotate(-90)" font-size="31.5" text-anchor="middle"><tspan font-style="italic">g</tspan><tspan font-size="28.4" dy="-0.8">(</tspan><tspan font-style="italic" dy="0.8">r</tspan><tspan font-size="28.4" dy="-0.8">)</tspan></text>
<text x="920.6" y="716.9" font-size="37.5">d</text>
<rect x="1470.7" y="713.0" width="264.0" height="136.5" rx="4" ry="4" fill="#fff" fill-opacity="0.8" stroke="#d6d6d6" stroke-width="1.8"/>
<path d="M1482.8,735.3H1543.3" stroke="#000" stroke-width="4.0" stroke-linecap="square" fill="none"/>
<text x="1567.8" y="746.5" font-size="31.5">KS-PAW</text>
<path d="M1482.8,778.1H1543.3" stroke="#0000ff" stroke-width="4.0" stroke-linecap="butt" stroke-dasharray="24.6 6.0 4.0 6.0" fill="none"/>
<text x="1567.8" y="789.3" font-size="31.5" letter-spacing="-0.45">WT-BLPS</text>
<path d="M1482.8,820.9H1544.0" stroke="#ff0000" stroke-width="4.0" stroke-linecap="butt" stroke-dasharray="14.4 5.8" fill="none"/>
<text x="1567.8" y="832.1" font-size="31.5" letter-spacing="-0.42">WT-NLPPF</text>
</g>
</svg>
</body></html>
